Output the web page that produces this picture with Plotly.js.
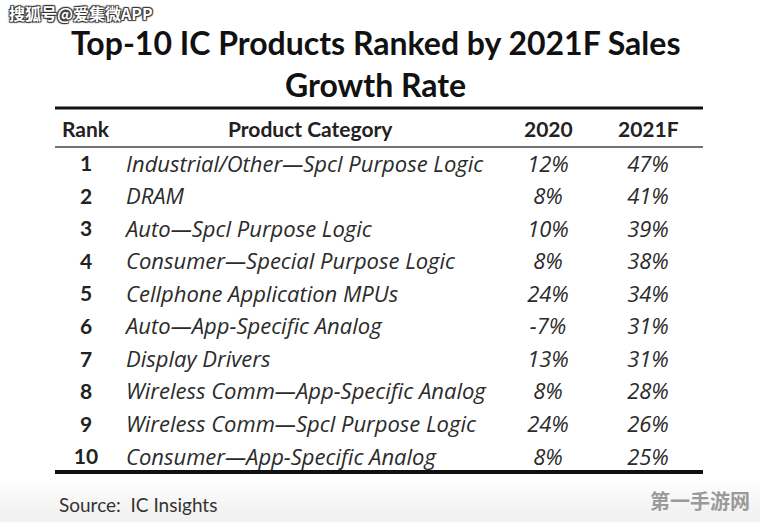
<!DOCTYPE html>
<html><head><meta charset="utf-8">
<script src="https://cdn.plot.ly/plotly-3.0.1.min.js"></script>
<style>html,body{margin:0;padding:0;background:#fff}</style>
</head><body><div id="chart" style="width:760px;height:522px"></div>
<script>
const titleLines = ["Top-10 IC Products Ranked by 2021F Sales", "Growth Rate"];
const headers = ["Rank", "Product Category", "2020", "2021F"];
const ranks = [1,2,3,4,5,6,7,8,9,10];
const categories = [
  "Industrial/Other\u2014Spcl Purpose Logic",
  "DRAM",
  "Auto\u2014Spcl Purpose Logic",
  "Consumer\u2014Special Purpose Logic",
  "Cellphone Application MPUs",
  "Auto\u2014App-Specific Analog",
  "Display Drivers",
  "Wireless Comm\u2014App-Specific Analog",
  "Wireless Comm\u2014Spcl Purpose Logic",
  "Consumer\u2014App-Specific Analog"
];
const growth2020 = [12, 8, 10, 8, 24, -7, 13, 8, 24, 8];
const growth2021F = [47, 41, 39, 38, 34, 31, 31, 28, 26, 25];
const source = "Source:  IC Insights";

const FONT = "Lato, 'Open Sans', sans-serif";
const ROWFONT = "'Open Sans', Lato, sans-serif";
const colX = {rank: 86, cat: 126, catHead: 310, y2020: 548, y2021: 648};
const rowFont = {family: ROWFONT, size: 22, color: "#2b2b2b", style: "italic"};

const traces = [
  {x: ranks.map(()=>colX.rank), y: ranks, text: ranks.map(String), mode: "text",
   textposition: "middle center", textfont: {family: FONT, size: 21, color: "#222", weight: 700},
   hoverinfo: "skip", showlegend: false},
  {x: ranks.map(()=>colX.cat), y: ranks, text: categories, mode: "text",
   textposition: "middle right", textfont: rowFont, hoverinfo: "skip", showlegend: false},
  {x: ranks.map(()=>colX.y2020), y: ranks, text: growth2020.map(v=>v+"%"), mode: "text",
   textposition: "middle center", textfont: rowFont, hoverinfo: "skip", showlegend: false},
  {x: ranks.map(()=>colX.y2021), y: ranks, text: growth2021F.map(v=>v+"%"), mode: "text",
   textposition: "middle center", textfont: rowFont, hoverinfo: "skip", showlegend: false}
];

const headFont = {family: FONT, size: 21, color: "#222", weight: 700};
const titleFont = {family: FONT, size: 32, color: "#111", weight: 700};
const annotations = [
  {x: 375, y: 42, text: titleLines[0], showarrow: false, font: titleFont},
  {x: 375, y: 84, text: titleLines[1], showarrow: false, font: titleFont},
  {x: colX.rank, y: 128, text: headers[0], showarrow: false, font: headFont},
  {x: colX.catHead, y: 128, text: headers[1], showarrow: false, font: headFont},
  {x: colX.y2020, y: 128, text: headers[2], showarrow: false, font: headFont},
  {x: colX.y2021, y: 128, text: headers[3], showarrow: false, font: headFont},
  {x: 57, y: 504, text: source, showarrow: false, xanchor: "left",
   font: {family: FONT, size: 19, color: "#333"}},
  {x: 7, y: 13, text: "\u641c\u72d0\u53f7@\u7231\u96c6\u5faeAPP", showarrow: false, xanchor: "left",
   font: {family: "'Noto Sans CJK SC'", size: 16, color: "#fff", weight: 700,
          shadow: "1px 1px 1px #333, -1px -1px 1px #333, 1px -1px 1px #333, -1px 1px 1px #333"}},
  {x: 752, y: 500, text: "\u7b2c\u4e00\u624b\u6e38\u7f51", showarrow: false, xanchor: "right",
   font: {family: "'Noto Sans CJK SC'", size: 20, color: "#9a9a9a", weight: 700}}
];
annotations.forEach(a => { a.xref = "x"; a.yref = "y2"; });

const shapes = [];
// soft grey fade toward the bottom edge
for (let k = 0; k < 8; k++) {
  shapes.push({type: "rect", xref: "x", yref: "y2", x0: 0, x1: 760, y0: 482 + k * 5, y1: 522,
               fillcolor: "rgba(225,225,225,0.08)", line: {width: 0}, layer: "below"});
}
shapes.push(
  {type: "line", xref: "x", yref: "y2", x0: 55, x1: 703, y0: 108, y1: 108, line: {color: "#111", width: 3}},
  {type: "line", xref: "x", yref: "y2", x0: 55, x1: 703, y0: 147, y1: 147, line: {color: "#444", width: 1.5}},
  {type: "line", xref: "x", yref: "y2", x0: 55, x1: 703, y0: 472, y1: 472, line: {color: "#111", width: 4}}
);

const rowTop = 166, rowStep = 32.56;
const layout = {
  width: 760, height: 522, margin: {l: 0, r: 0, t: 0, b: 0},
  paper_bgcolor: "#fff", plot_bgcolor: "#fff",
  xaxis: {range: [0, 760], visible: false, fixedrange: true},
  yaxis: {range: [1 + (522 - rowTop) / rowStep, 1 - rowTop / rowStep], visible: false, fixedrange: true},
  yaxis2: {range: [522, 0], visible: false, overlaying: "y", fixedrange: true},
  annotations, shapes
};
Plotly.newPlot("chart", traces, layout, {staticPlot: true, displayModeBar: false});
</script></body></html>
